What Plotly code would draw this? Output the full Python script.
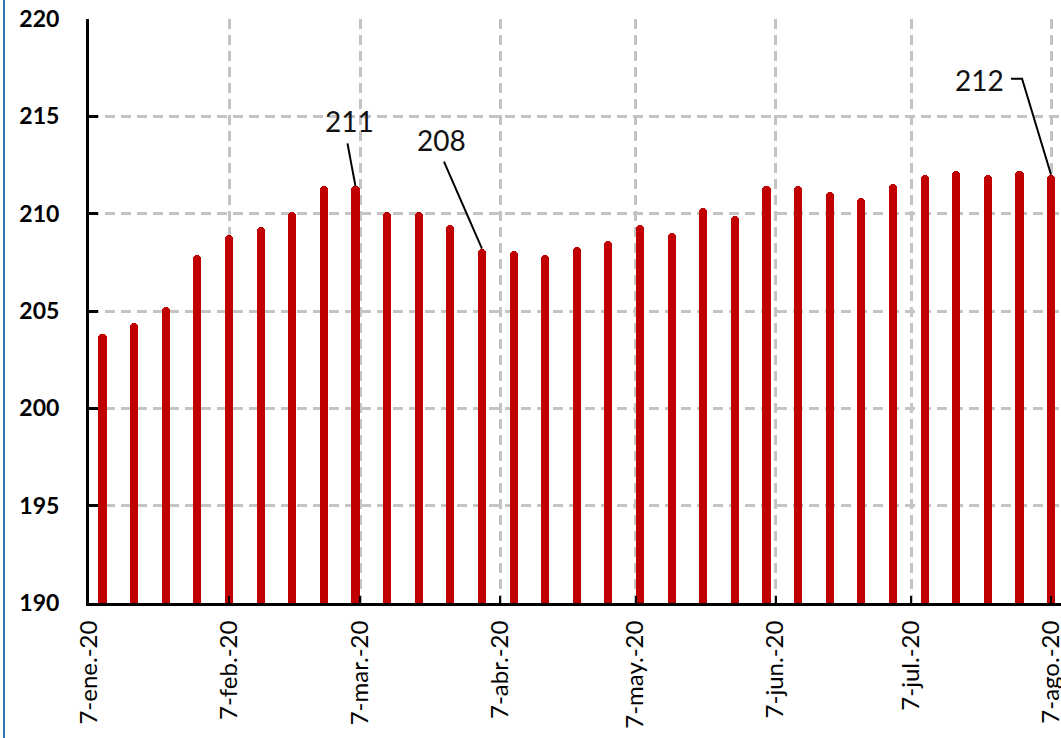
import pandas as pd
import plotly.graph_objects as go

# Weekly index values (Fridays), Jan 10 - Aug 7, 2020
week_start = "2020-01-10"
values = [203.8, 204.4, 205.2, 207.9, 208.9, 209.3, 210.1, 211.4, 211.4, 210.1,
          210.1, 209.4, 208.2, 208.1, 207.9, 208.3, 208.6, 209.4, 209.0, 210.3,
          209.9, 211.4, 211.4, 211.1, 210.8, 211.5, 212.0, 212.2, 212.0, 212.2,
          212.0]
dates = pd.date_range(week_start, periods=len(values), freq="7D")

# Monthly tick marks on the 7th
tick_dates = pd.date_range("2020-01-01", periods=8, freq="MS") + pd.Timedelta(days=6)
tick_text = ["7-ene.-20", "7-feb.-20", "7-mar.-20", "7-abr.-20",
             "7-may.-20", "7-jun.-20", "7-jul.-20", "7-ago.-20"]

y_ticks = [190, 195, 200, 205, 210, 215, 220]

# Callouts: (bar index, label offset px, leader path in px relative to bar top)
callouts = [
    (8, (-6, 65), "M -8 43 L 0 0"),
    (12, (-40, 109), "M -38 87 L 0 0"),
    (30, (-72, 95), "M -40 96 L -29 96 L 0 0"),
]

BAR_RED = "#C00000"
GRID = "#c4c4c4"
FONT = "Lato"

fig = go.Figure()
fig.add_trace(go.Bar(
    x=dates, y=values,
    width=1.8 * 24 * 3600 * 1000,
    marker=dict(color=BAR_RED, line=dict(width=0), cornerradius=4),
    hoverinfo="x+y",
))

for idx, (dx, dy), path in callouts:
    d, v = dates[idx], values[idx]
    fig.add_annotation(
        x=d, y=v, text=f"{v:.0f}", showarrow=False,
        xshift=dx, yshift=dy,
        font=dict(family=FONT, size=28, color="#111111"),
    )
    fig.add_shape(
        type="path", path=path,
        xref="x", yref="y", xsizemode="pixel", ysizemode="pixel",
        xanchor=d, yanchor=v,
        line=dict(color="black", width=2),
    )

# Blue frame edge at the left of the chart area
fig.add_shape(type="line", xref="paper", yref="paper",
              xsizemode="pixel", xanchor=0, x0=-85, x1=-85,
              y0=-1, y1=1.1, line=dict(color="#2E75B6", width=2))

fig.update_layout(
    width=1061, height=738,
    margin=dict(l=89, r=0, t=19, b=135),
    plot_bgcolor="white", paper_bgcolor="white",
    showlegend=False, bargap=0,
    font=dict(family=FONT, color="black"),
)

fig.update_xaxes(
    type="date", automargin=False,
    range=[pd.Timestamp("2020-01-07"), pd.Timestamp("2020-01-07") + pd.Timedelta(days=215.2)],
    tickvals=tick_dates, ticktext=tick_text, tickangle=-90,
    tickfont=dict(family=FONT, size=24, color="black"),
    ticklabeloverflow="allow",
    ticks="inside", ticklen=7, tickwidth=2, tickcolor="black",
    showline=True, linecolor="black", linewidth=3,
    showgrid=True, gridcolor=GRID, gridwidth=2.5, griddash="10px,6px",
    ticklabelstandoff=5,
    zeroline=False,
)
fig.update_yaxes(
    automargin=False,
    range=[190, 220], tickvals=y_ticks,
    tickfont=dict(family=FONT, size=23, color="black", weight="bold"),
    ticks="inside", ticklen=9, tickwidth=3, tickcolor="black",
    showline=True, linecolor="black", linewidth=3,
    showgrid=True, gridcolor=GRID, gridwidth=2.5, griddash="10px,6px",
    ticklabelstandoff=22,
    zeroline=False,
)

fig.write_html("out.html")
